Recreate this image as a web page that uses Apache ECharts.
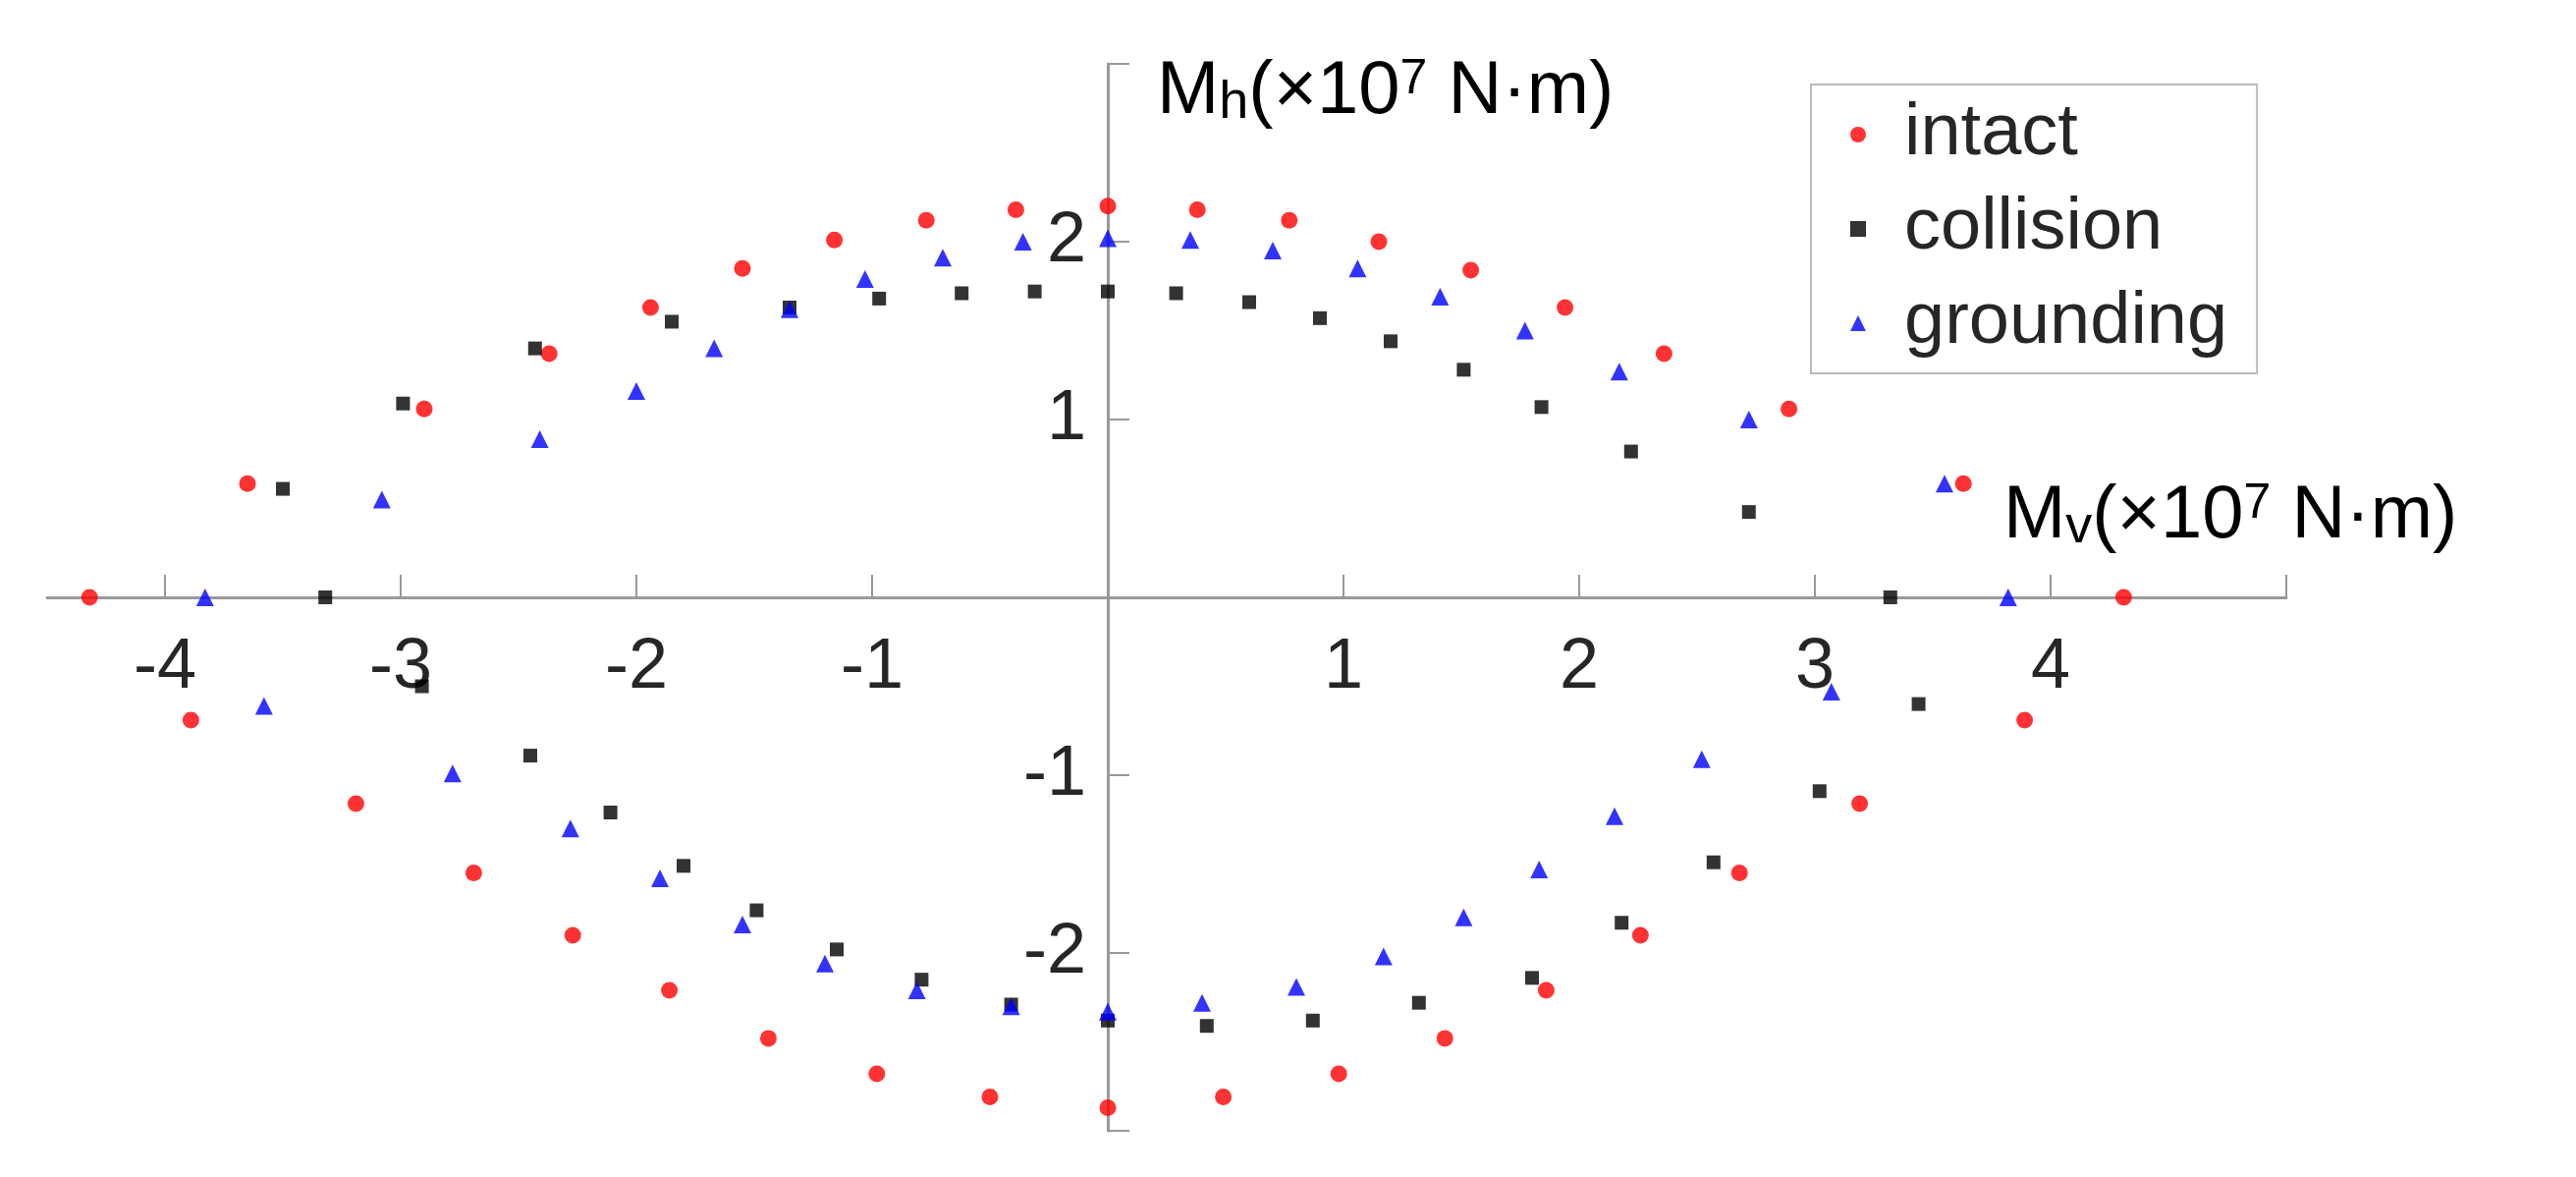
<!DOCTYPE html>
<html><head><meta charset="utf-8">
<script src="https://cdn.jsdelivr.net/npm/echarts@6/dist/echarts.min.js"></script>
<style>html,body{margin:0;padding:0;background:#fff}#c{width:2623px;height:1198px}</style>
</head><body><div id="c"></div>
<script>
const intact = [[-4.32,0],[-3.65,0.64],[-2.90,1.06],[-2.37,1.37],[-1.94,1.63],[-1.55,1.85],[-1.16,2.01],[-0.77,2.12],[-0.39,2.18],[0,2.20],[0.38,2.18],[0.77,2.12],[1.15,2.00],[1.54,1.84],[1.94,1.63],[2.36,1.37],[2.89,1.06],[3.63,0.64],[4.31,0],
[3.89,-0.69],[3.19,-1.16],[2.68,-1.55],[2.26,-1.90],[1.86,-2.21],[1.43,-2.48],[0.98,-2.68],[0.49,-2.81],[0,-2.87],[-0.50,-2.81],[-0.98,-2.68],[-1.44,-2.48],[-1.86,-2.21],[-2.27,-1.90],[-2.69,-1.55],[-3.19,-1.16],[-3.89,-0.69]];
const collision = [[-3.32,0],[-3.50,0.61],[-2.99,1.09],[-2.43,1.40],[-1.85,1.55],[-1.35,1.63],[-0.97,1.68],[-0.62,1.71],[-0.31,1.72],[0,1.72],[0.29,1.71],[0.60,1.66],[0.90,1.57],[1.20,1.44],[1.51,1.28],[1.84,1.07],[2.22,0.82],[2.72,0.48],[3.32,0],
[3.44,-0.60],[3.02,-1.09],[2.57,-1.49],[2.18,-1.83],[1.80,-2.14],[1.32,-2.28],[0.87,-2.38],[0.42,-2.41],[0,-2.38],[-0.41,-2.29],[-0.79,-2.15],[-1.15,-1.98],[-1.49,-1.76],[-1.80,-1.51],[-2.11,-1.21],[-2.45,-0.89],[-2.91,-0.50]];
const grounding = [[-3.83,0],[-3.08,0.55],[-2.41,0.89],[-2.00,1.16],[-1.67,1.40],[-1.35,1.62],[-1.03,1.79],[-0.70,1.91],[-0.36,2.00],[0,2.02],[0.35,2.01],[0.70,1.95],[1.06,1.85],[1.41,1.69],[1.77,1.50],[2.17,1.27],[2.72,1.00],[3.55,0.64],[3.82,0],
[3.07,-0.53],[2.52,-0.91],[2.15,-1.23],[1.83,-1.53],[1.51,-1.80],[1.17,-2.02],[0.80,-2.19],[0.40,-2.28],[0,-2.33],[-0.41,-2.30],[-0.81,-2.21],[-1.20,-2.06],[-1.55,-1.84],[-1.90,-1.58],[-2.28,-1.30],[-2.78,-0.99],[-3.58,-0.61]];
const xTicks = [-4,-3,-2,-1,1,2,3,4,5];
const xLabels = [-4,-3,-2,-1,1,2,3,4];
const yTicks = [-3,-2,-1,1,2,3];
const yLabels = [-2,-1,1,2];

const F = 'Arial, "Liberation Sans", sans-serif';
const axisCol = '#999';
const txt = '#262626';
const W = 2623, H = 1198, GL = 48, GR = 295, GT = 65, GB = 47;
const xOff = -((W - GL - GR) * 4.5 / 9.5);   // move y axis to x = 0
const yOff = -((H - GT - GB) / 2);           // move x axis to y = 0
const chart = echarts.init(document.getElementById('c'));
const richName = {
  m:{fontSize:76,color:txt,fontFamily:F},
  s:{fontSize:54,color:txt,fontFamily:F,verticalAlign:'bottom'},
  p:{fontSize:50,color:txt,fontFamily:F,verticalAlign:'top'}
};
chart.setOption({
  animation:false,
  grid:{left:GL,right:GR,top:GT,bottom:GB},
  legend:{
    data:['intact','collision','grounding'],
    orient:'vertical', left:1844, top:86,
    backgroundColor:'#fff', borderColor:'#bbb', borderWidth:2,
    padding:[14,30,14,40], itemGap:22, itemWidth:16, itemHeight:16,
    textStyle:{fontSize:74,fontFamily:F,color:txt,padding:[0,0,0,34]}
  },
  xAxis:{
    type:'value', min:-4.5, max:5, interval:0.5, position:'bottom', offset:yOff,
    axisLine:{onZero:false,lineStyle:{color:axisCol,width:3}},
    axisTick:{inside:true,length:23,lineStyle:{color:axisCol,width:2},customValues:xTicks},
    axisLabel:{customValues:xLabels,fontSize:72,fontFamily:F,color:txt,margin:36},
    splitLine:{show:false}
  },
  yAxis:{
    type:'value', min:-3, max:3, interval:1, position:'left', offset:xOff,
    axisLine:{onZero:false,lineStyle:{color:axisCol,width:3}},
    axisTick:{inside:true,length:22,lineStyle:{color:axisCol,width:2},customValues:yTicks},
    axisLabel:{customValues:yLabels,fontSize:72,fontFamily:F,color:txt,margin:22},
    splitLine:{show:false}
  },
  graphic:[
    {type:'text',left:1178,top:56,style:{text:'{m|M}{s|h}{m|(×10}{p|7}{m| N·m)}',rich:richName}},
    {type:'text',left:2040,top:488,style:{text:'{m|M}{s|v}{m|(×10}{p|7}{m| N·m)}',rich:richName}}
  ],
  series:[
    {name:'intact',type:'scatter',data:intact,symbol:'circle',symbolSize:17,itemStyle:{color:'#ff0000'},z:3},
    {name:'collision',type:'scatter',data:collision,symbol:'rect',symbolSize:14,itemStyle:{color:'#000'},z:4},
    {name:'grounding',type:'scatter',data:grounding,symbol:'triangle',symbolSize:18,itemStyle:{color:'#0000ff'},z:5}
  ]
});
</script></body></html>
